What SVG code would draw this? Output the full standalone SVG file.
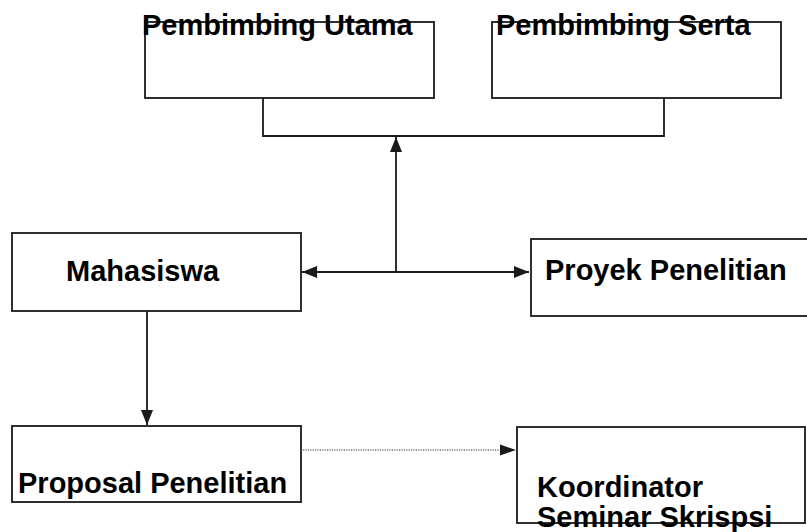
<svg xmlns="http://www.w3.org/2000/svg" width="807" height="532" viewBox="0 0 807 532">
<defs>
<style>
.box{fill:#fff;stroke:#1a1a1a;stroke-width:1.8}
.lbl{font-family:"Liberation Sans",Arial,sans-serif;font-weight:bold;font-size:29px;fill:#000}
.ln{fill:none;stroke:#1a1a1a;stroke-width:1.8}
.dot{fill:none;stroke:#333;stroke-width:1.2;stroke-dasharray:1.2 1.2}
</style>
<marker id="ah" viewBox="0 0 15 12" refX="15" refY="6" markerWidth="15" markerHeight="12" markerUnits="userSpaceOnUse" orient="auto-start-reverse">
<path d="M0,0 L15,6 L0,12 z" fill="#1a1a1a"/>
</marker>
</defs>
<rect width="807" height="532" fill="#fff"/>
<g id="pembimbing-utama">
<rect class="box" x="145" y="22" width="289" height="76"/>
<text class="lbl" x="142" y="35">Pembimbing Utama</text>
</g>
<g id="pembimbing-serta">
<rect class="box" x="492" y="22" width="289" height="76"/>
<text class="lbl" x="496" y="35">Pembimbing Serta</text>
</g>
<g id="mahasiswa">
<rect class="box" x="12" y="233" width="289" height="78"/>
<text class="lbl" x="66" y="281">Mahasiswa</text>
</g>
<g id="proyek-penelitian">
<rect class="box" x="531" y="239" width="285" height="77"/>
<text class="lbl" x="545" y="280">Proyek Penelitian</text>
</g>
<g id="proposal-penelitian">
<rect class="box" x="12" y="426" width="289" height="76"/>
<text class="lbl" x="18" y="493">Proposal Penelitian</text>
</g>
<g id="koordinator">
<rect class="box" x="517" y="427" width="288" height="96"/>
<text class="lbl" x="537" y="497">Koordinator</text>
<text class="lbl" x="537" y="527">Seminar Skrispsi</text>
</g>
<g id="connectors">
<path class="ln" d="M263,98 V136 H664 V98"/>
<path class="ln" d="M396,272 V137" marker-end="url(#ah)"/>
<path class="ln" d="M396,272 H302" marker-end="url(#ah)"/>
<path class="ln" d="M396,272 H529" marker-end="url(#ah)"/>
<path class="ln" d="M147,311 V425" marker-end="url(#ah)"/>
<path class="dot" d="M303,450 H503"/>
<path d="M500,444.5 L516,450 L500,455.5 z" fill="#1a1a1a"/>
</g>
</svg>
